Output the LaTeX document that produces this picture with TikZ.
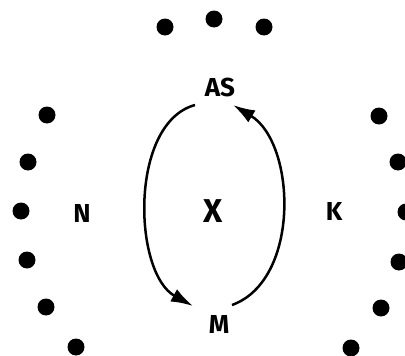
\documentclass[tikz,border=0pt]{standalone}
\usepackage{fontspec}
\setmainfont{Fira Sans}
\usetikzlibrary{arrows.meta,calc}
\begin{document}
\begin{tikzpicture}[x=1pt,y=-1pt,
  dot/.style={circle,fill=black,inner sep=0pt,minimum size=17pt},
  lbl/.style={inner sep=0pt,font=\fontsize{26}{26}\selectfont\bfseries},
  big/.style={inner sep=0pt,font=\fontsize{33}{33}\selectfont\bfseries},
  arr/.style={line width=2.5pt,-{Latex[length=22pt,width=14pt]}}]
\useasboundingbox (0,0) rectangle (405,356);
% dots
\node[dot] (t1) at (165,27) {};
\node[dot] (t2) at (214,19) {};
\node[dot] (t3) at (264,27) {};
\node[dot] (l1) at (47,115) {};
\node[dot] (l2) at (28,162) {};
\node[dot] (l3) at (21,211) {};
\node[dot] (l4) at (27,260) {};
\node[dot] (l5) at (46,307) {};
\node[dot] (l6) at (76,347) {};
\node[dot] (r1) at (379,116) {};
\node[dot] (r2) at (398,162) {};
\node[dot] (r3) at (406,212) {};
\node[dot] (r4) at (399,262) {};
\node[dot] (r5) at (381,308) {};
\node[dot] (r6) at (351,348) {};
% labels
\node[lbl] (AS) at (220,87) {AS};
\node[lbl] (M) at (219,324) {M};
\node[big] (X) at (213,211) {X};
\node[lbl] (N) at (82,213) {N};
\node[lbl] (K) at (334,211) {K};
% connectors
\path (AS.center) ++(-25,18) coordinate (asL);
\path (AS.center) ++(13,18) coordinate (asR);
\path (M.center) ++(-26,-18) coordinate (mL);
\path (M.center) ++(13,-19) coordinate (mR);
\draw[arr] (asL) .. controls (129,123) and (133,273) .. (mL);
\draw[arr] (mR) .. controls (301,280) and (296,143) .. (asR);
\end{tikzpicture}
\end{document}
